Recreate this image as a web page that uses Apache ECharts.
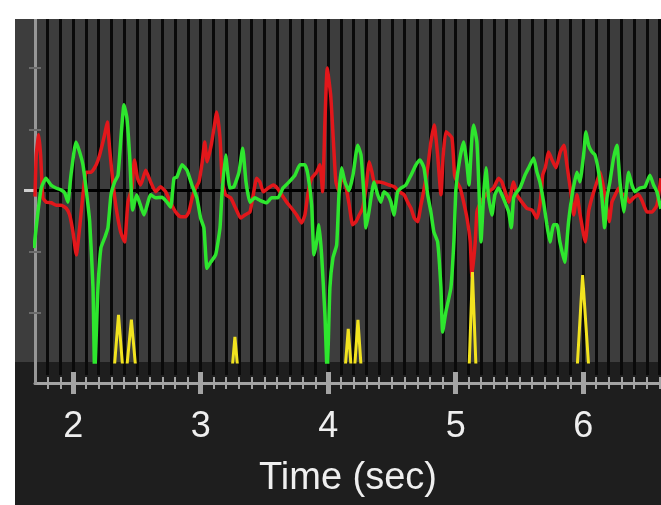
<!DOCTYPE html>
<html>
<head>
<meta charset="utf-8">
<script src="https://cdn.jsdelivr.net/npm/echarts@6/dist/echarts.min.js"></script>
<style>
  html, body { margin: 0; padding: 0; background: #ffffff; }
  #wrap { position: relative; width: 661px; height: 505px; overflow: hidden; background: #ffffff; }
  #chart { position: absolute; left: 15px; top: 19px; width: 646px; height: 486px;
    background: linear-gradient(to bottom, #3d3d3d 0px, #3d3d3d 343px, #1e1e1e 343px, #1e1e1e 486px); }
</style>
</head>
<body>
<div id="wrap"><div id="chart"></div></div>
<script>
// ---- data (time in seconds, signal in arbitrary units) ----
const xTickLabels = [2, 3, 4, 5, 6];
const yTickValues = [-2, -1, 0, 1, 2];
const xName = 'Time (sec)';

const greenSeries = [
  [1.692,-0.94],[1.723,-0.35],[1.749,0.04],[1.786,0.20],[1.825,0.09],[1.864,0.04],[1.904,0.01],[1.933,-0.04],
  [1.958,-0.19],[1.982,0.25],[2.021,0.79],[2.050,0.63],[2.076,0.42],[2.100,0.04],[2.129,-0.51],[2.155,-1.59],
  [2.168,-3.0],[2.194,-1.59],[2.217,-0.94],[2.249,-0.76],[2.272,-0.61],[2.296,-0.07],[2.325,0.14],[2.351,0.25],
  [2.374,0.86],[2.398,1.40],[2.421,1.18],[2.442,0.58],[2.466,-0.32],[2.497,-0.07],[2.555,-0.40],[2.607,-0.07],
  [2.646,-0.12],[2.696,-0.11],[2.735,-0.19],[2.764,-0.27],[2.790,0.20],[2.813,0.22],[2.853,0.42],[2.892,0.33],
  [2.931,0.09],[2.970,-0.12],[2.999,-0.45],[3.025,-0.61],[3.049,-1.27],[3.078,-1.17],[3.117,-1.05],[3.151,-0.61],
  [3.166,-0.07],[3.195,0.58],[3.229,0.04],[3.260,0.06],[3.300,0.30],[3.329,0.69],[3.355,0.14],[3.386,-0.19],
  [3.425,-0.12],[3.464,-0.16],[3.517,-0.20],[3.556,-0.12],[3.605,-0.12],[3.645,0.04],[3.684,0.12],[3.739,0.25],
  [3.778,0.42],[3.817,0.42],[3.841,0.25],[3.870,-0.24],[3.888,-1.05],[3.909,-0.84],[3.927,-0.56],[3.948,-1.05],
  [3.974,-2.03],[3.992,-3.0],[4.013,-1.59],[4.037,-1.10],[4.066,-0.89],[4.084,-0.07],[4.105,0.37],[4.131,0.14],
  [4.162,0.00],[4.194,0.25],[4.231,0.74],[4.257,0.58],[4.280,-0.07],[4.296,-0.61],[4.319,-0.35],[4.359,0.14],
  [4.388,-0.07],[4.413,-0.19],[4.437,-0.02],[4.466,-0.07],[4.492,-0.19],[4.515,-0.40],[4.544,-0.02],[4.570,0.04],
  [4.609,0.09],[4.649,0.25],[4.688,0.42],[4.719,0.50],[4.751,0.37],[4.780,-0.07],[4.805,-0.35],[4.829,-0.68],
  [4.858,-0.84],[4.884,-1.59],[4.897,-2.31],[4.923,-1.98],[4.962,-1.59],[4.986,-0.81],[5.002,0.04],[5.033,0.53],
  [5.062,0.79],[5.088,0.42],[5.104,0.09],[5.127,0.86],[5.140,1.07],[5.166,0.79],[5.182,0.04],[5.198,-0.84],
  [5.219,-0.07],[5.237,0.37],[5.258,-0.12],[5.284,-0.40],[5.307,-0.07],[5.336,0.04],[5.362,-0.07],[5.386,-0.19],
  [5.415,-0.35],[5.436,-0.61],[5.454,-0.12],[5.480,-0.02],[5.504,0.04],[5.543,0.25],[5.572,0.37],[5.611,0.53],
  [5.637,0.30],[5.660,0.14],[5.689,-0.19],[5.715,-0.56],[5.739,-0.84],[5.768,-0.56],[5.794,-0.56],[5.817,-0.84],
  [5.854,-1.17],[5.885,-0.51],[5.917,-0.02],[5.951,0.30],[5.974,0.14],[6.003,0.58],[6.021,0.96],[6.042,0.74],
  [6.068,0.63],[6.092,0.58],[6.121,0.30],[6.147,-0.12],[6.168,-0.61],[6.186,-0.12],[6.209,0.14],[6.238,0.53],
  [6.264,0.74],[6.288,0.14],[6.317,-0.35],[6.335,-0.07],[6.356,0.30],[6.382,0.09],[6.405,-0.02],[6.445,0.04],
  [6.484,0.06],[6.523,0.25],[6.552,0.09],[6.578,-0.02],[6.609,-0.30]
];

const redSeries = [
  [1.700,-0.10],[1.710,0.58],[1.729,0.91],[1.744,0.58],[1.762,-0.12],[1.788,-0.19],[1.827,-0.20],[1.867,-0.24],
  [1.906,-0.24],[1.945,-0.29],[1.972,-0.40],[1.998,-0.68],[2.024,-1.05],[2.050,-0.61],[2.076,-0.07],[2.102,0.30],
  [2.141,0.30],[2.180,0.42],[2.207,0.58],[2.246,0.91],[2.267,1.12],[2.285,0.69],[2.311,0.14],[2.337,-0.29],
  [2.372,-0.68],[2.403,-0.84],[2.429,-0.19],[2.460,0.04],[2.480,0.50],[2.504,0.20],[2.529,0.09],[2.568,0.33],
  [2.607,0.14],[2.646,-0.02],[2.685,0.06],[2.725,-0.02],[2.764,-0.20],[2.803,-0.35],[2.842,-0.43],[2.882,-0.43],
  [2.907,-0.35],[2.933,-0.12],[2.960,0.04],[2.986,0.14],[3.012,0.47],[3.031,0.79],[3.051,0.47],[3.082,0.74],
  [3.104,1.02],[3.125,1.28],[3.151,0.86],[3.169,0.14],[3.195,-0.07],[3.235,-0.12],[3.274,-0.29],[3.313,-0.45],
  [3.347,-0.40],[3.386,-0.35],[3.412,-0.07],[3.438,0.20],[3.464,0.14],[3.490,-0.02],[3.529,0.04],[3.569,0.09],
  [3.600,0.04],[3.635,-0.07],[3.674,-0.19],[3.713,-0.29],[3.752,-0.40],[3.791,-0.53],[3.817,-0.40],[3.843,-0.02],
  [3.870,0.20],[3.909,0.30],[3.935,0.42],[3.956,-0.02],[3.974,1.12],[3.992,2.00],[4.019,1.56],[4.039,0.86],
  [4.060,0.14],[4.086,-0.02],[4.105,0.20],[4.131,0.14],[4.165,-0.24],[4.191,-0.56],[4.217,-0.51],[4.243,-0.40],
  [4.270,-0.29],[4.296,0.04],[4.322,0.47],[4.343,0.30],[4.361,0.14],[4.400,0.14],[4.439,0.12],[4.478,0.09],
  [4.518,0.06],[4.557,-0.02],[4.596,-0.07],[4.623,-0.19],[4.649,-0.29],[4.675,-0.45],[4.701,-0.51],[4.727,-0.24],
  [4.753,0.04],[4.780,0.37],[4.805,0.79],[4.831,1.07],[4.858,0.58],[4.884,-0.07],[4.902,0.58],[4.923,0.96],
  [4.970,0.86],[4.991,0.25],[5.009,0.14],[5.035,0.04],[5.062,-0.19],[5.088,-0.45],[5.114,-0.84],[5.127,-1.40],
  [5.153,-0.84],[5.166,-0.35],[5.184,-0.24],[5.219,-0.12],[5.258,-0.02],[5.297,0.04],[5.336,0.20],[5.362,0.14],
  [5.388,-0.02],[5.415,-0.19],[5.454,0.14],[5.480,-0.07],[5.519,-0.19],[5.558,-0.29],[5.598,-0.32],[5.637,-0.45],
  [5.663,-0.19],[5.682,0.25],[5.702,0.37],[5.729,0.63],[5.755,0.50],[5.786,0.37],[5.820,0.63],[5.849,0.74],
  [5.872,0.42],[5.898,0.04],[5.925,-0.40],[5.951,-0.07],[5.976,-0.40],[6.016,-0.84],[6.042,-0.35],[6.068,-0.12],
  [6.107,0.14],[6.133,0.30],[6.160,0.04],[6.186,-0.29],[6.204,-0.51],[6.225,-0.19],[6.251,-0.07],[6.278,0.04],
  [6.304,-0.07],[6.329,-0.07],[6.361,-0.19],[6.395,-0.12],[6.435,-0.07],[6.466,-0.19],[6.500,-0.35],[6.539,-0.35],
  [6.578,-0.24],[6.609,0.20]
];

// yellow event spikes (baseline below the visible floor, '-' breaks between spikes)
const yellowSeries = [
  [2.320,-2.95],[2.355,-2.03],[2.390,-2.95],[2.404,'-'],
  [2.417,-2.95],[2.456,-2.11],[2.492,-2.95],[2.90,'-'],
  [3.245,-2.95],[3.268,-2.39],[3.292,-2.95],[3.70,'-'],
  [4.131,-2.95],[4.157,-2.26],[4.182,-2.95],[4.194,'-'],
  [4.205,-2.95],[4.233,-2.11],[4.260,-2.95],[4.70,'-'],
  [5.104,-2.95],[5.131,-1.33],[5.160,-2.95],[5.50,'-'],
  [5.951,-2.95],[5.995,-1.38],[6.045,-2.95]
];

// ---- axis helpers ----
const xMin = 1.7, xMax = 6.61, xStep = 0.1;
const minorTicks = [];
for (let i = Math.round(xMin / xStep) + 1; i <= Math.floor(xMax / xStep + 1e-9); i++) {
  const v = +(i * xStep).toFixed(1);
  if (xTickLabels.indexOf(v) < 0) minorTicks.push(v);
}
const yMinorTicks = yTickValues.filter(v => v !== 0);

const FONT = '"Liberation Sans", Arial, Helvetica, sans-serif';
const AX = '#a4a4a4';
const STRIPE = '#0a0a0a';
const base = { type: 'value', min: xMin, max: xMax, interval: xStep, position: 'bottom' };
const hidden = { axisLine: { show: false, onZero: false }, axisTick: { show: false }, axisLabel: { show: false }, splitLine: { show: false } };

const chart = echarts.init(document.getElementById('chart'), null, { renderer: 'canvas' });
chart.setOption({
  animation: false,
  backgroundColor: 'transparent',
  grid: [
    { left: 20, right: 0, top: 0, height: 343, outerBoundsMode: 'none' },
    { left: 20, right: 0, top: 343, height: 21, outerBoundsMode: 'none' },
    { left: 20, right: 0, top: 343, height: 13, outerBoundsMode: 'none' }
  ],
  xAxis: [
    Object.assign({}, base, hidden, { gridIndex: 0,
      splitLine: { show: true, lineStyle: { color: STRIPE, width: 3 } } }),
    Object.assign({}, base, { gridIndex: 1,
      axisLine: { show: true, onZero: false, lineStyle: { color: AX, width: 3 } },
      axisTick: { show: true, customValues: minorTicks, inside: false, length: 6, lineStyle: { color: AX, width: 2 } },
      axisLabel: { show: true, customValues: xTickLabels, margin: 26, color: '#efefef', fontSize: 36, fontFamily: FONT,
        formatter: v => String(Math.round(v)) },
      splitLine: { show: false },
      name: xName, nameLocation: 'middle', nameGap: 77,
      nameTextStyle: { color: '#efefef', fontSize: 38, fontFamily: FONT } }),
    Object.assign({}, base, hidden, { gridIndex: 1,
      axisTick: { show: true, customValues: minorTicks, inside: true, length: 6, lineStyle: { color: AX, width: 2 } } }),
    Object.assign({}, base, hidden, { gridIndex: 1,
      axisTick: { show: true, customValues: xTickLabels, inside: false, length: 11, lineStyle: { color: AX, width: 5 } } }),
    Object.assign({}, base, hidden, { gridIndex: 1,
      axisTick: { show: true, customValues: xTickLabels, inside: true, length: 11, lineStyle: { color: AX, width: 5 } } }),
    Object.assign({}, base, hidden, { gridIndex: 2,
      splitLine: { show: true, lineStyle: { color: STRIPE, width: 3 } } })
  ],
  yAxis: [
    { type: 'value', gridIndex: 0, min: -2.8, max: 2.8, position: 'left', z: 1,
      axisLine: { show: true, onZero: false, lineStyle: { color: '#979797', width: 3 } },
      axisTick: { show: true, customValues: yMinorTicks, inside: false, length: 6, lineStyle: { color: '#6c6c6c', width: 2 } },
      axisLabel: { show: false }, splitLine: { show: false } },
    { type: 'value', gridIndex: 0, min: -2.8, max: 2.8, position: 'left', z: 1,
      axisLine: { show: false, onZero: false },
      axisTick: { show: true, customValues: yMinorTicks, inside: true, length: 6, lineStyle: { color: '#6c6c6c', width: 2 } },
      axisLabel: { show: false }, splitLine: { show: false } },
    { type: 'value', gridIndex: 0, min: -2.8, max: 2.8, position: 'left', z: 1,
      axisLine: { show: false, onZero: false },
      axisTick: { show: true, customValues: [0], inside: false, length: 11, lineStyle: { color: '#cfcfcf', width: 3 } },
      axisLabel: { show: false }, splitLine: { show: false } },
    { type: 'value', gridIndex: 1, min: 0, max: 1, position: 'left', z: 1,
      axisLine: { show: true, onZero: false, lineStyle: { color: '#979797', width: 3 } },
      axisTick: { show: false }, axisLabel: { show: false }, splitLine: { show: false } },
    Object.assign({ type: 'value', gridIndex: 2, min: 0, max: 1, position: 'left' }, hidden)
  ],
  series: [
    { name: 'red', type: 'line', xAxisIndex: 0, yAxisIndex: 0, data: redSeries, z: 2,
      showSymbol: false, symbol: 'none', smooth: 0.15,
      lineStyle: { color: '#e2171b', width: 3.5 },
      markLine: { silent: true, symbol: 'none', z: 1, label: { show: false },
        lineStyle: { color: '#000000', width: 3, type: 'solid' }, data: [{ yAxis: 0 }] } },
    { name: 'green', type: 'line', xAxisIndex: 0, yAxisIndex: 0, data: greenSeries, z: 3,
      showSymbol: false, symbol: 'none', smooth: 0.15,
      lineStyle: { color: '#2ee62e', width: 3.5 } },
    { name: 'yellow', type: 'line', xAxisIndex: 0, yAxisIndex: 0, data: yellowSeries, z: 4,
      showSymbol: false, symbol: 'none', connectNulls: false,
      lineStyle: { color: '#f2e31f', width: 3 } }
  ]
});
</script>
</body>
</html>
